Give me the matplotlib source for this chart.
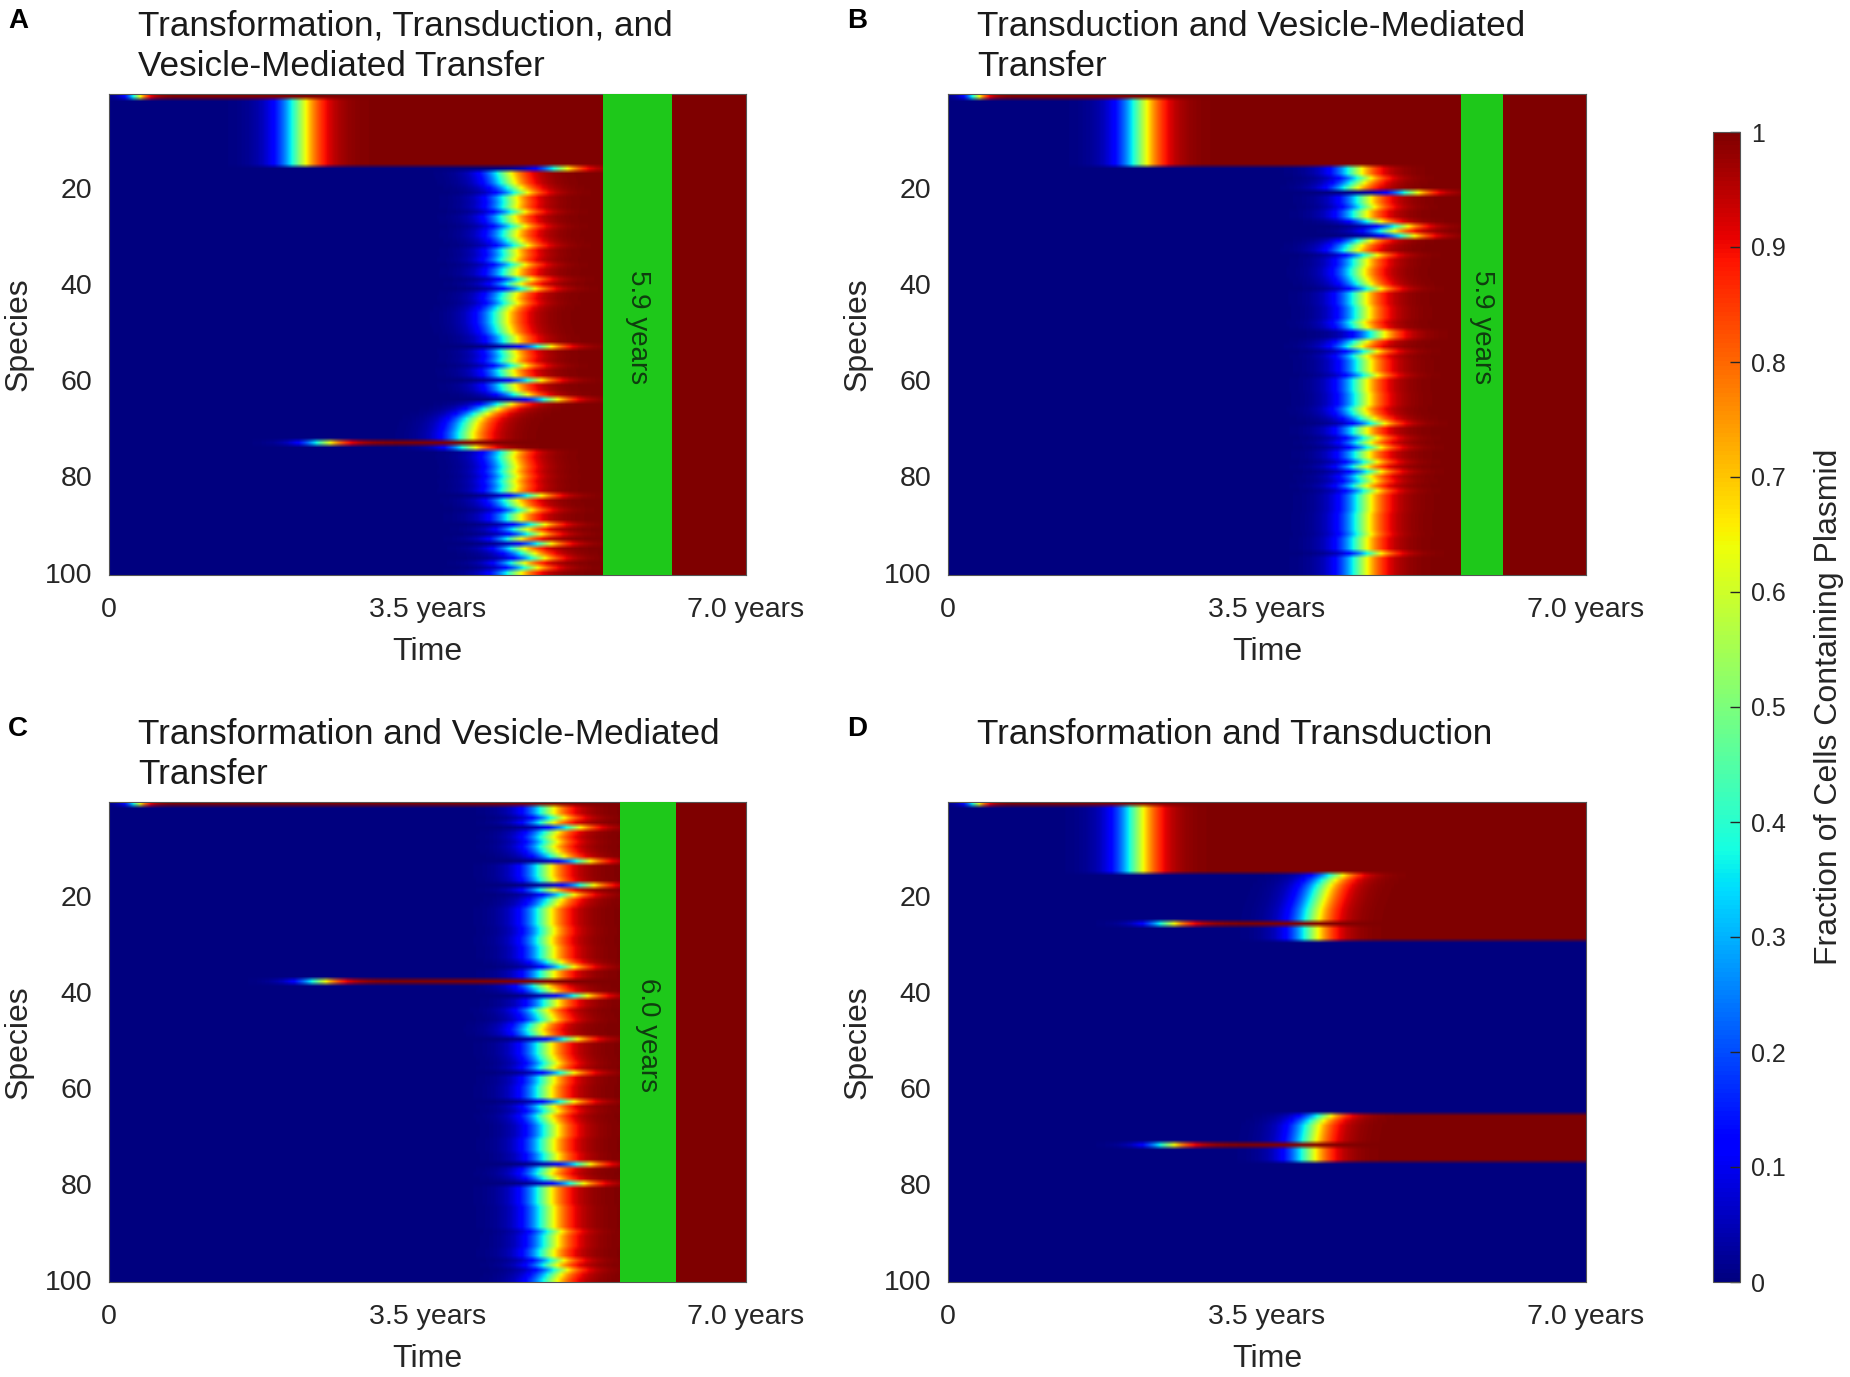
import numpy as np
import matplotlib
matplotlib.use('Agg')
import matplotlib.pyplot as plt

plt.rcParams['font.family'] = ['Liberation Sans', 'DejaVu Sans']

# time of plasmid takeover (years, 50% point) per species 1..100; NEVER = no takeover
NEVER = 99.0

mid_A = [0.30] + [2.08]*14 + [
    4.96, 4.34, 4.36, 4.38, 4.45, 4.52, 4.40, 4.41, 4.40, 4.49,   # 16-25
    4.38, 4.40, 4.49, 4.41, 4.40, 4.45, 4.52, 4.40, 4.41, 4.38,   # 26-35
    4.49, 4.41, 4.40, 4.56, 4.45, 4.60, 4.40, 4.38, 4.41, 4.34,   # 36-45
    4.30, 4.30, 4.30, 4.32, 4.34, 4.40, 4.41, 4.78, 4.38, 4.40,   # 46-55
    4.38, 4.49, 4.36, 4.38, 4.67, 4.38, 4.40, 4.52, 4.85, 4.34,   # 56-65
    4.19, 4.08, 4.00, 3.96, 3.94, 3.92, 3.92, 2.35, 3.95, 4.38,   # 66-75
    4.36, 4.38, 4.40, 4.38, 4.41, 4.38, 4.40, 4.38, 4.67, 4.41,   # 76-85
    4.45, 4.56, 4.45, 4.45, 4.71, 4.52, 4.67, 4.45, 4.78, 4.49,   # 86-95
    4.60, 4.71, 4.49, 4.63, 4.45]                                 # 96-100

mid_B = [0.30] + [2.10]*14 + [
    4.46, 4.46, 4.56, 4.49, 4.42, 5.08, 4.56, 4.56, 4.60, 4.52,
    4.52, 4.67, 4.97, 4.82, 5.04, 4.56, 4.46, 4.42, 4.63, 4.52,
    4.52, 4.49, 4.49, 4.52, 4.56, 4.67, 4.51, 4.51, 4.51, 4.54,
    4.54, 4.54, 4.49, 4.52, 4.71, 4.71, 4.52, 4.46, 4.63, 4.52,
    4.56, 4.56, 4.56, 4.63, 4.52, 4.52, 4.52, 4.54, 4.54, 4.54,
    4.49, 4.52, 4.60, 4.71, 4.52, 4.52, 4.63, 4.56, 4.67, 4.54,
    4.54, 4.63, 4.52, 4.67, 4.56, 4.60, 4.52, 4.63, 4.56, 4.56,
    4.56, 4.56, 4.54, 4.54, 4.54, 4.54, 4.56, 4.52, 4.52, 4.52,
    4.67, 4.52, 4.52, 4.52, 4.52]

mid_C = [0.30] + [
    4.81, 4.81, 4.92, 4.81, 5.10, 4.85, 4.81, 4.85, 4.81,         # 2-10
    4.85, 4.92, 5.21, 4.78, 4.78, 4.78, 4.81, 5.25, 4.81, 5.03,   # 11-20
    4.89, 4.85, 4.78, 4.78, 4.78, 4.78, 4.81, 4.81, 4.78, 4.78,   # 21-30
    4.81, 4.81, 4.81, 4.89, 5.03, 4.81, 4.81, 2.30, 4.74, 4.81,   # 31-40
    5.18, 4.85, 4.85, 4.74, 4.78, 4.81, 4.70, 4.67, 4.70, 5.07,   # 41-50
    4.78, 4.78, 4.78, 4.81, 4.85, 4.81, 5.03, 4.81, 4.81, 4.78,   # 51-60
    4.78, 4.78, 5.03, 4.81, 4.85, 4.78, 4.81, 4.85, 4.85, 4.85,   # 61-70
    4.81, 4.81, 4.81, 4.85, 4.85, 5.21, 4.81, 4.78, 4.85, 5.14,   # 71-80
    4.78, 4.78, 4.78, 4.78, 4.81, 4.81, 4.81, 4.81, 4.81, 4.89,   # 81-90
    4.85, 4.85, 4.85, 4.81, 4.81, 4.92, 4.85, 4.96, 4.89, 4.85]   # 91-100

mid_D = [0.30] + [2.06]*14 + [
    4.25, 4.17, 4.12, 4.09, 4.07, 4.05, 4.03, 4.01, 4.00, 3.99,   # 16-25
    2.40, 3.98, 3.98, 3.98] + [NEVER]*36 + [                      # 26-65
    4.12, 4.04, 3.99, 3.98, 3.97, 3.96, 2.40, 3.95, 3.95, 3.95    # 66-75
    ] + [NEVER]*25                                                # 76-100

titles = ['Transformation, Transduction, and\nVesicle-Mediated Transfer',
          'Transduction and Vesicle-Mediated\nTransfer',
          'Transformation and Vesicle-Mediated\nTransfer',
          'Transformation and Transduction']
letters = ['A', 'B', 'C', 'D']

# fixation window shown as green band (years) and its label
band_start = [5.43, 5.63, 5.62, None]
band_end = [6.19, 6.09, 6.23, None]
band_label = ['5.9 years', '5.9 years', '6.0 years', None]

w_rise = 0.14   # years, before the 50% point
w_tail = 0.14   # years, after it
first_width = 0.07

t = np.linspace(0, 7, 701)

def grid(mids):
    mids = np.array(mids)[:, None]
    z = t[None, :] - mids
    w = np.where(z < 0, w_rise, w_tail)
    w[0] = first_width
    return 1.0 / (1.0 + np.exp(-z / w))

fig = plt.figure(figsize=(18.5, 13.77), dpi=100)
W, H = 1850.0, 1377.0
boxes = [(109, 94, 746, 575), (948, 94, 1586, 575),
         (109, 802, 746, 1282), (948, 802, 1586, 1282)]
tick_col = '#262626'

for k, mids in enumerate([mid_A, mid_B, mid_C, mid_D]):
    x0, y0, x1, y1 = boxes[k]
    ax = fig.add_axes([x0 / W, 1 - y1 / H, (x1 - x0) / W, (y1 - y0) / H])
    im = ax.imshow(grid(mids), cmap='jet', vmin=0, vmax=1, aspect='auto',
                   extent=[0, 7, 100.5, 0.5], interpolation='bilinear')
    if band_start[k] is not None:
        ax.axvspan(band_start[k], band_end[k], color='#1ec81a', lw=0, zorder=3)
        ax.text((band_start[k] + band_end[k]) / 2, 49, band_label[k], rotation=270,
                ha='center', va='center', fontsize=20, color='#0f3d0f', zorder=4)
    ax.set_xlim(0, 7)
    ax.set_ylim(100.5, 0.5)
    ax.set_xticks([0, 3.5, 7.0])
    ax.set_xticklabels(['0', '3.5 years', '7.0 years'])
    ax.set_yticks([20, 40, 60, 80, 100])
    ax.tick_params(length=0, labelsize=20.5, colors=tick_col)
    ax.tick_params(axis='x', pad=16)
    ax.tick_params(axis='y', pad=12)
    for s in ax.spines.values():
        s.set_color('#555555')
        s.set_linewidth(0.8)
    ax.set_xlabel('Time', fontsize=23, color=tick_col, labelpad=10)
    ax.set_ylabel('Species', fontsize=23, color=tick_col, labelpad=8)
    ax.text(0.046, 1 + 84.0 / (y1 - y0), titles[k], transform=ax.transAxes,
            ha='left', va='top', fontsize=25.3, color='#1a1a1a', linespacing=1.28)
    fig.text((x0 - 101) / W, 1 - (y0 - 73) / H, letters[k], ha='left', va='center',
             fontsize=20, fontweight='bold', color='black')

cax = fig.add_axes([1713 / W, 1 - 1282 / H, 27 / W, 1150 / H])
cb = fig.colorbar(im, cax=cax, ticks=np.arange(0, 1.01, 0.1))
cb.ax.set_yticklabels(['0', '0.1', '0.2', '0.3', '0.4', '0.5', '0.6', '0.7', '0.8', '0.9', '1'])
cb.ax.tick_params(direction='in', length=7, width=1.0, labelsize=18, colors=tick_col, pad=8)
cb.outline.set_edgecolor('#555555')
cb.outline.set_linewidth(0.8)
cb.set_label('Fraction of Cells Containing Plasmid', fontsize=23, color=tick_col, labelpad=20)

plt.savefig('out.png', dpi=100)
